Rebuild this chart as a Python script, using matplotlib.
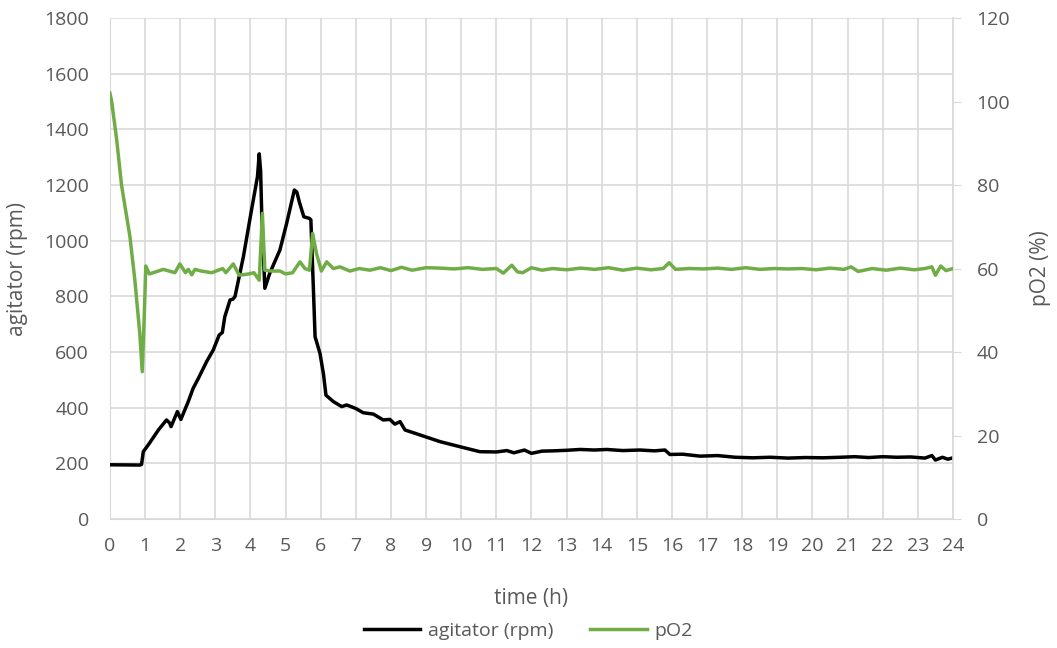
import matplotlib
matplotlib.use("Agg")
from matplotlib import pyplot as plt

# agitator speed (rpm)
agi_t = [0, 0.85, 0.9, 0.95, 1.1, 1.38, 1.61, 1.7, 1.74, 1.92, 2.02, 2.23, 2.37,
         2.52, 2.75, 2.94, 3.11, 3.2, 3.27, 3.42, 3.5, 3.56, 3.8, 4.03, 4.2,
         4.25, 4.29, 4.32, 4.41, 4.55, 4.84, 5.03, 5.25, 5.32, 5.39, 5.52,
         5.68, 5.72, 5.79, 5.84, 5.98, 6.08, 6.15, 6.36, 6.6, 6.74, 7.0, 7.21,
         7.5, 7.78, 7.97, 8.11, 8.26, 8.4, 8.83, 9.4, 9.96, 10.53, 11.0, 11.3,
         11.5, 11.8, 12.0, 12.3, 12.62, 13.0, 13.38, 13.8, 14.14, 14.6, 15.09,
         15.5, 15.8, 15.94, 16.3, 16.8, 17.3, 17.8, 18.3, 18.8, 19.3, 19.8,
         20.3, 20.8, 21.2, 21.6, 22.0, 22.4, 22.8, 23.2, 23.4, 23.5, 23.7,
         23.85, 24]
agi_rpm = [195, 194, 196, 242, 268, 320, 356, 345, 332, 386, 358, 422, 470,
           506, 565, 607, 661, 670, 727, 787, 790, 799, 943, 1110, 1230,
           1312, 1250, 1100, 829, 883, 967, 1062, 1182, 1175, 1140, 1086,
           1080, 1075, 835, 655, 595, 520, 445, 422, 404, 410, 397, 382,
           377, 356, 358, 341, 350, 320, 302, 278, 260, 242, 241, 246,
           238, 248, 236, 244, 245, 247, 250, 248, 250, 246, 248,
           245, 248, 232, 233, 226, 228, 222, 220, 222, 219, 221,
           220, 222, 224, 221, 224, 222, 223, 219, 228, 212, 222,
           215, 220]

# pO2 (%)
po2_t = [0, 0.05, 0.19, 0.33, 0.57, 0.71, 0.85, 0.92, 0.98, 1.02, 1.12, 1.52,
         1.85, 1.99, 2.15, 2.23, 2.33, 2.42, 2.6, 2.9, 3.21, 3.3, 3.51, 3.68,
         3.95, 4.1, 4.25, 4.34, 4.41, 4.6, 4.84, 5.0, 5.2, 5.41, 5.55, 5.68,
         5.77, 5.88, 6.02, 6.17, 6.36, 6.55, 6.83, 7.1, 7.4, 7.7, 8.0, 8.3,
         8.6, 9.0, 9.4, 9.8, 10.2, 10.6, 11.0, 11.2, 11.44, 11.6, 11.75, 12.0,
         12.3, 12.6, 13.0, 13.4, 13.8, 14.2, 14.6, 15.0, 15.4, 15.75, 15.92,
         16.1, 16.5, 16.9, 17.3, 17.7, 18.1, 18.5, 18.9, 19.3, 19.7, 20.1,
         20.5, 20.9, 21.1, 21.3, 21.7, 22.1, 22.5, 22.9, 23.2, 23.4, 23.5,
         23.65, 23.8, 24]
po2_pct = [102, 100, 91, 80, 67.6, 57.2, 44.5, 35.3, 49.3, 60.6, 58.7, 59.8,
           59.0, 61.1, 59.0, 59.8, 58.5, 59.8, 59.4, 59.0, 60.0, 59.0, 61.1, 58.4,
           58.7, 59.0, 57.2, 73.2, 59.6, 59.4, 59.4, 58.7, 59.0, 61.6, 60.0, 59.6,
           68.4, 63.6, 59.4, 61.6, 60.0, 60.4, 59.4, 60.0, 59.6, 60.2, 59.5, 60.3,
           59.6, 60.2, 60.1, 59.9, 60.2, 59.8, 60.0, 58.9, 60.8, 59.2, 59.0, 60.2,
           59.6, 60.0, 59.7, 60.1, 59.8, 60.2, 59.6, 60.1, 59.7, 60.0, 61.4,
           59.8, 60.0, 59.9, 60.1, 59.8, 60.2, 59.8, 60.0, 59.9, 60.0, 59.7,
           60.1, 59.8, 60.4, 59.3, 60.0, 59.6, 60.1, 59.7, 60.0, 60.4, 58.4,
           60.6, 59.5, 60.0]

hours = list(range(0, 25))

tick_color = "#595959"
grid_color = "#D9D9D9"
font = "Open Sans"

fig = plt.figure(figsize=(10.57, 6.48), dpi=100)
ax = fig.add_axes([0.104, 0.199, 0.7976, 0.7732])
ax2 = ax.twinx()

l1, = ax.plot(agi_t, agi_rpm, color="black", lw=2.5, label="agitator (rpm)", zorder=3)
l2, = ax2.plot(po2_t, po2_pct, color="#70AD47", lw=2.5, label="pO2", zorder=3)

ax.set_xlim(0, 24)
ax.set_ylim(0, 1800)
ax2.set_ylim(0, 120)
ax.set_xticks(hours)
ax.set_yticks(range(0, 1801, 200))
ax2.set_yticks(range(0, 121, 20))

ax.grid(True, color=grid_color, lw=1.2)
ax.set_axisbelow(True)
for a in (ax, ax2):
    for s in a.spines.values():
        s.set_visible(False)
ax.spines["left"].set_visible(True)
ax.spines["left"].set_color(grid_color)
ax.spines["bottom"].set_visible(True)
ax.spines["bottom"].set_color(grid_color)
ax2.spines["right"].set_visible(True)
ax2.spines["right"].set_color(grid_color)
ax2.spines["right"].set_linewidth(1.2)

ax.tick_params(axis="y", length=0, labelsize=14, labelcolor=tick_color, pad=15)
ax.tick_params(axis="x", length=0, labelsize=14, labelcolor=tick_color, pad=13)
ax2.tick_params(axis="y", length=6, color=grid_color, direction="out", labelsize=14,
                labelcolor=tick_color, pad=11)
for lab in ax.get_xticklabels() + ax.get_yticklabels() + ax2.get_yticklabels():
    lab.set_family(font)

ax.set_xlabel("time (h)", fontsize=15, color=tick_color, family=font, labelpad=24)
ax.set_ylabel("agitator (rpm)", fontsize=15, color=tick_color, family=font, labelpad=12)
ax2.set_ylabel("pO2 (%)", fontsize=15, color=tick_color, family=font, labelpad=14)

fig.legend(handles=[l1, l2], loc="center", bbox_to_anchor=(0.5, 0.027), ncol=2,
           frameon=False, handlelength=2.9, handletextpad=0.4, columnspacing=1.9,
           prop={"family": font, "size": 14}, labelcolor=tick_color)

fig.savefig("out.png", dpi=100)
